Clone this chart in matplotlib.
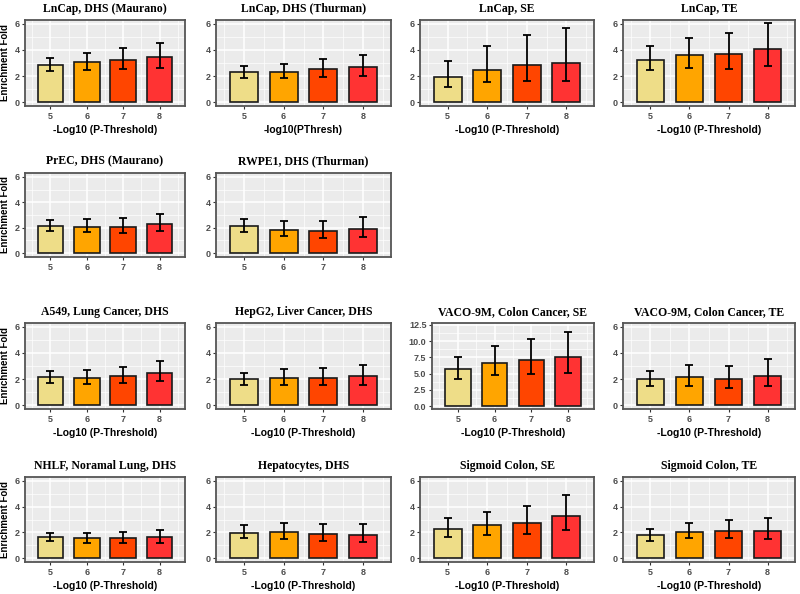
import matplotlib
matplotlib.use("Agg")
import matplotlib.pyplot as plt
import numpy as np

thresholds = [5, 6, 7, 8]
bar_colors = ["#EEDD88", "#FFA500", "#FF4500", "#FF3333"]

titles = [
    "LnCap, DHS (Maurano)", "LnCap, DHS (Thurman)", "LnCap, SE", "LnCap, TE",
    "PrEC, DHS (Maurano)", "RWPE1, DHS (Thurman)",
    "A549, Lung Cancer, DHS", "HepG2, Liver Cancer, DHS",
    "VACO-9M, Colon Cancer, SE", "VACO-9M, Colon Cancer, TE",
    "NHLF, Noramal Lung, DHS", "Hepatocytes, DHS", "Sigmoid Colon, SE", "Sigmoid Colon, TE",
]
xlabels = [
    "-Log10 (P-Threshold)", "-log10(PThresh)", "-Log10 (P-Threshold)", "-Log10 (P-Threshold)",
    "", "",
    "-Log10 (P-Threshold)", "-Log10 (P-Threshold)", "-Log10 (P-Threshold)", "-Log10 (P-Threshold)",
    "-Log10 (P-Threshold)", "-Log10 (P-Threshold)", "-Log10 (P-Threshold)", "-Log10 (P-Threshold)",
]

lncap_maurano = [2.86, 3.04, 3.24, 3.49]
lncap_maurano_lo = [2.37, 2.47, 2.53, 2.65]
lncap_maurano_hi = [3.39, 3.78, 4.16, 4.57]

lncap_thurman = [2.30, 2.33, 2.53, 2.71]
lncap_thurman_lo = [1.87, 1.82, 1.92, 2.03]
lncap_thurman_hi = [2.76, 2.96, 3.29, 3.65]

lncap_se = [1.94, 2.50, 2.86, 3.01]
lncap_se_lo = [1.17, 1.51, 1.63, 1.63]
lncap_se_hi = [3.16, 4.29, 5.13, 5.69]

lncap_te = [3.24, 3.59, 3.70, 4.10]
lncap_te_lo = [2.43, 2.61, 2.56, 2.78]
lncap_te_hi = [4.28, 4.91, 5.29, 6.05]

prec = [2.11, 2.09, 2.09, 2.26]
prec_lo = [1.73, 1.68, 1.60, 1.73]
prec_hi = [2.57, 2.65, 2.80, 3.10]

rwpe1 = [2.14, 1.83, 1.73, 1.91]
rwpe1_lo = [1.70, 1.35, 1.20, 1.30]
rwpe1_hi = [2.72, 2.52, 2.49, 2.85]

a549 = [2.14, 2.09, 2.24, 2.50]
a549_lo = [1.73, 1.63, 1.71, 1.84]
a549_hi = [2.65, 2.73, 2.96, 3.39]

hepg2 = [1.99, 2.09, 2.09, 2.22]
hepg2_lo = [1.56, 1.58, 1.51, 1.56]
hepg2_hi = [2.47, 2.78, 2.83, 3.11]

vaco_se = [5.69, 6.66, 7.16, 7.62]
vaco_se_lo = [4.22, 4.78, 4.93, 5.08]
vaco_se_hi = [7.62, 9.25, 10.37, 11.43]

vaco_te = [1.99, 2.12, 1.99, 2.27]
vaco_te_lo = [1.43, 1.48, 1.30, 1.43]
vaco_te_hi = [2.65, 3.04, 3.01, 3.57]

nhlf = [1.61, 1.56, 1.53, 1.63]
nhlf_lo = [1.30, 1.20, 1.15, 1.17]
nhlf_hi = [1.94, 1.96, 2.02, 2.22]

hepatocytes = [1.99, 2.04, 1.89, 1.81]
hepatocytes_lo = [1.56, 1.51, 1.30, 1.22]
hepatocytes_hi = [2.55, 2.73, 2.63, 2.63]

sigmoid_se = [2.30, 2.55, 2.76, 3.29]
sigmoid_se_lo = [1.68, 1.76, 1.89, 2.19]
sigmoid_se_hi = [3.11, 3.57, 4.06, 4.92]

sigmoid_te = [1.76, 2.02, 2.09, 2.12]
sigmoid_te_lo = [1.35, 1.53, 1.53, 1.48]
sigmoid_te_hi = [2.27, 2.70, 2.93, 3.09]

series = [
    (lncap_maurano, lncap_maurano_lo, lncap_maurano_hi),
    (lncap_thurman, lncap_thurman_lo, lncap_thurman_hi),
    (lncap_se, lncap_se_lo, lncap_se_hi),
    (lncap_te, lncap_te_lo, lncap_te_hi),
    (prec, prec_lo, prec_hi),
    (rwpe1, rwpe1_lo, rwpe1_hi),
    (a549, a549_lo, a549_hi),
    (hepg2, hepg2_lo, hepg2_hi),
    (vaco_se, vaco_se_lo, vaco_se_hi),
    (vaco_te, vaco_te_lo, vaco_te_hi),
    (nhlf, nhlf_lo, nhlf_hi),
    (hepatocytes, hepatocytes_lo, hepatocytes_hi),
    (sigmoid_se, sigmoid_se_lo, sigmoid_se_hi),
    (sigmoid_te, sigmoid_te_lo, sigmoid_te_hi),
]

W, H = 800, 594
fig = plt.figure(figsize=(8, 5.94), dpi=100)

cols = [(25, 185), (216, 391), (420, 594), (623, 795)]
rows = [(20, 106), (173, 257), (323, 409), (477, 562)]
grid_pos = [(0, 0), (0, 1), (0, 2), (0, 3),
            (1, 0), (1, 1),
            (2, 0), (2, 1), (2, 2), (2, 3),
            (3, 0), (3, 1), (3, 2), (3, 3)]

for i, (title, (vals, lo, hi)) in enumerate(zip(titles, series)):
    r, c = grid_pos[i]
    x0, x1 = cols[c]
    if title == "VACO-9M, Colon Cancer, SE":
        x0 = 432
    y0, y1 = rows[r]
    ax = fig.add_axes([x0 / W, 1 - y1 / H, (x1 - x0) / W, (y1 - y0) / H])
    ax.set_facecolor("#EBEBEB")
    vals = np.array(vals)
    lo = np.array(lo)
    hi = np.array(hi)
    ax.bar(thresholds, vals, width=0.7, color=bar_colors, edgecolor="#1a1a1a",
           linewidth=1.2, zorder=3)
    ax.errorbar(thresholds, vals, yerr=[vals - lo, hi - vals], fmt="none",
                ecolor="black", elinewidth=1.3, capsize=3, capthick=1.3, zorder=4)
    ax.set_xlim(4.3, 8.7)
    if title == "VACO-9M, Colon Cancer, SE":
        ax.set_ylim(-0.45, 12.8)
        ax.set_yticks([0, 2.5, 5, 7.5, 10, 12.5])
        ax.set_yticklabels(["0.0", "2.5", "5.0", "7.5", "10.0", "12.5"])
        ax.set_yticks([1.25, 3.75, 6.25, 8.75, 11.25], minor=True)
    else:
        ax.set_ylim(-0.3, 6.3)
        ax.set_yticks([0, 2, 4, 6])
        ax.set_yticks([1, 3, 5], minor=True)
    ax.set_xticks(thresholds)
    ax.set_xticks([4.5, 5.5, 6.5, 7.5, 8.5], minor=True)
    ax.grid(which="major", color="white", linewidth=1.1, zorder=0)
    ax.grid(which="minor", color="white", linewidth=0.5, zorder=0)
    ax.set_axisbelow(True)
    ax.tick_params(which="minor", length=0)
    ax.tick_params(which="major", length=2.5, width=0.8, color="#333333",
                   labelsize=6.5, labelcolor="#4D4D4D", pad=1.5)
    for lbl in ax.get_xticklabels() + ax.get_yticklabels():
        lbl.set_fontweight("bold")
        lbl.set_family("Liberation Sans")
    for sp in ax.spines.values():
        sp.set_color("#555555")
        sp.set_linewidth(1.3)
    ax.set_title(title, fontsize=8.5, fontweight="bold", family="Liberation Serif", pad=6)
    if xlabels[i]:
        ax.set_xlabel(xlabels[i], fontsize=7.5, fontweight="bold", family="Liberation Sans", labelpad=3)
    if c == 0:
        ax.set_ylabel("Enrichment Fold", fontsize=7, fontweight="bold", family="Liberation Sans")
        ax.yaxis.set_label_coords(-14.5 / (x1 - x0), 0.5)

fig.savefig("out.png", dpi=100, facecolor="white")
